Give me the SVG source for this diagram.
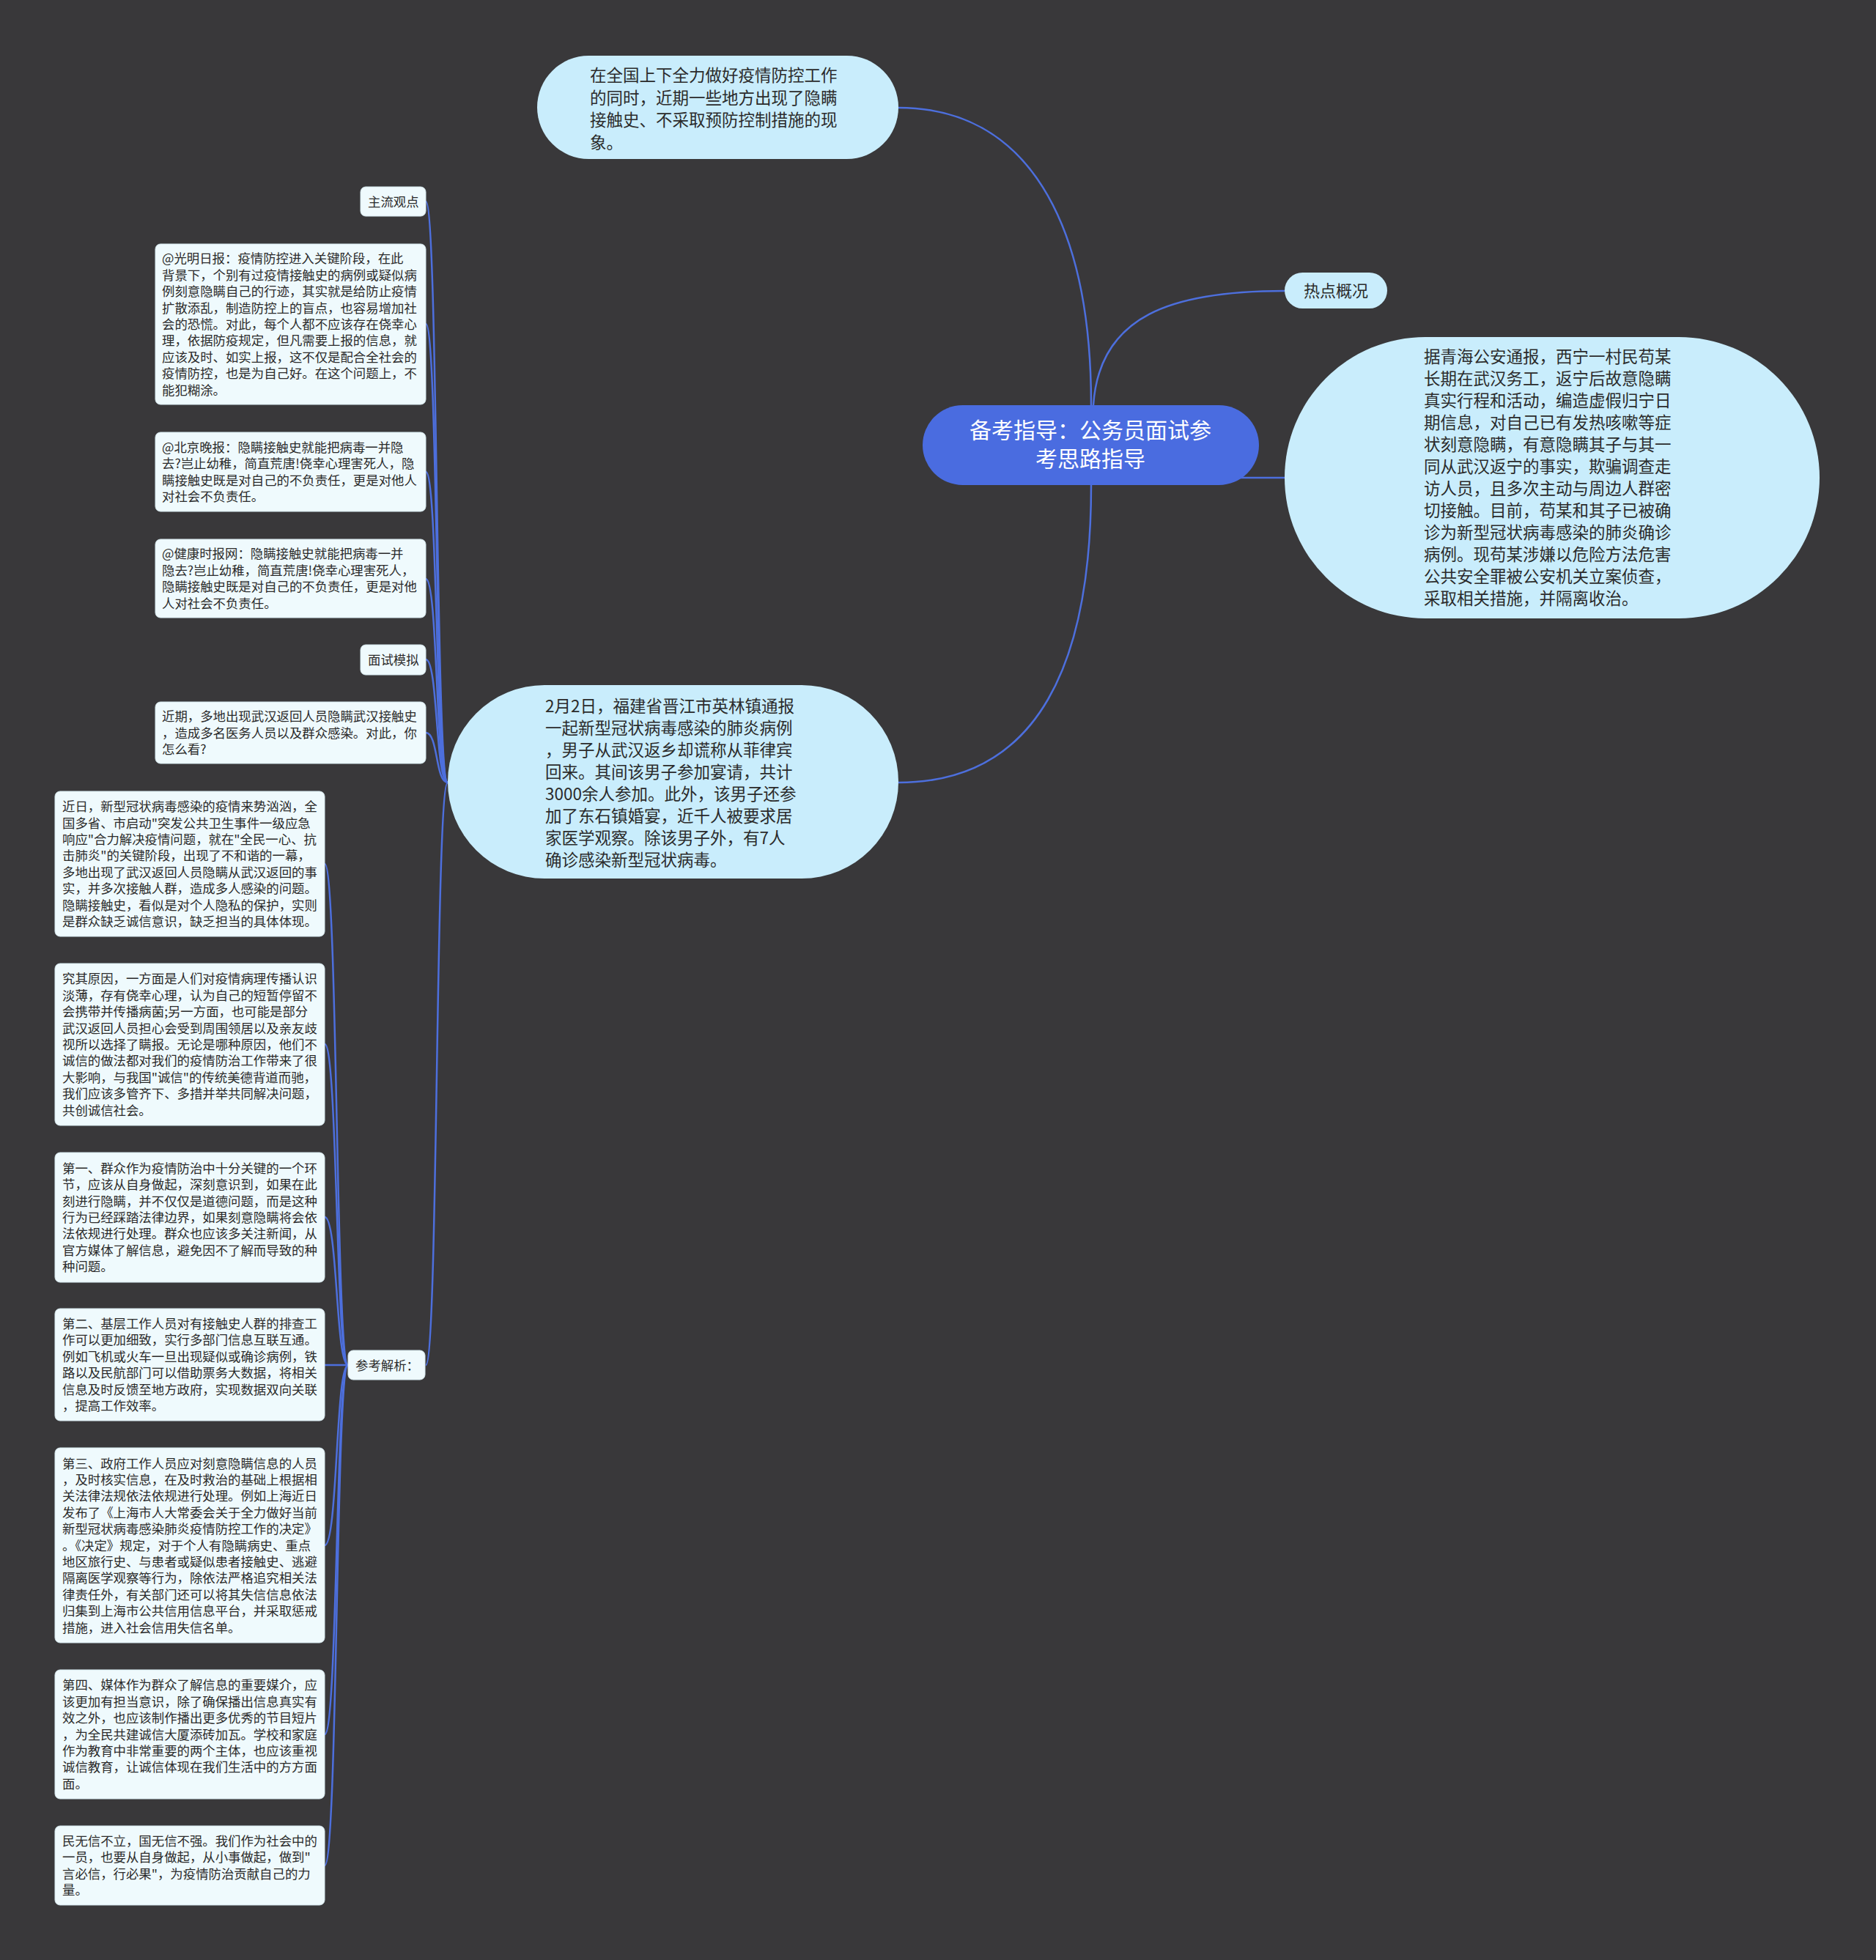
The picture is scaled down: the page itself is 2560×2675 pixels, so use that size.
<svg xmlns="http://www.w3.org/2000/svg" width="2560" height="2675" viewBox="0 0 2560 2675">
<style>
.t{font-family:"Noto Sans CJK SC","Noto Sans",sans-serif;fill:#2b2b2b}
.s{font-size:17.4px}
.b{font-size:22.5px}
.bub{fill:#c9edfc}
.box{fill:#effafd;stroke:#d6e8ee;stroke-width:1}
.c{fill:none;stroke:#4d6fdd;stroke-width:2.5}
</style>
<rect x="0" y="0" width="2560" height="2675" fill="#39383a"/>
<g id="connectors">
<path class="c" d="M1489 553 C1489 300 1400 147 1226 147"/>
<path class="c" d="M1492 553 C1500 430 1600 397 1753 397"/>
<path class="c" d="M1690 652 L1756 652"/>
<path class="c" d="M1489 662 C1489 900 1420 1068 1226 1068"/>
<path class="c" d="M611 1068 C594 1068 598 275 581 275"/>
<path class="c" d="M611 1068 C594 1068 598 442 581 442"/>
<path class="c" d="M611 1068 C594 1068 598 644 581 644"/>
<path class="c" d="M611 1068 C594 1068 598 790 581 790"/>
<path class="c" d="M611 1068 C594 1068 598 900 581 900"/>
<path class="c" d="M611 1068 C594 1068 598 1000 581 1000"/>
<path class="c" d="M611 1068 C594 1068 598 1863 581 1863"/>
<path class="c" d="M475 1863 C458 1863 461 1179 443 1179"/>
<path class="c" d="M475 1863 C458 1863 461 1425 443 1425"/>
<path class="c" d="M475 1863 C458 1863 461 1661 443 1661"/>
<path class="c" d="M475 1863 L443 1863"/>
<path class="c" d="M475 1863 C458 1863 461 2109 443 2109"/>
<path class="c" d="M475 1863 C458 1863 461 2367 443 2367"/>
<path class="c" d="M475 1863 C458 1863 461 2546 443 2546"/>
</g>
<g id="center">
<rect x="1259" y="553" width="459" height="109" rx="54.5" fill="#4a6ce0"/>
<text class="t" font-size="30" style="fill:#ffffff" text-anchor="middle"><tspan x="1488" y="598">备考指导：公务员面试参</tspan><tspan x="1488" y="637">考思路指导</tspan></text>
</g>
<g id="top-bubble">
<rect class="bub" x="733" y="76" width="493" height="141" rx="70.5"/>
<text class="t b"><tspan x="805" y="111">在全国上下全力做好疫情防控工作</tspan><tspan x="805" y="141.5">的同时，近期一些地方出现了隐瞒</tspan><tspan x="805" y="172">接触史、不采取预防控制措施的现</tspan><tspan x="805" y="202.5">象。</tspan></text>
</g>
<g id="hot">
<rect class="bub" x="1753" y="372" width="140" height="49" rx="24.5"/>
<text class="t" font-size="22" x="1823" y="405" text-anchor="middle">热点概况</text>
</g>
<g id="right-bubble">
<rect class="bub" x="1753" y="460" width="730" height="384" rx="192"/>
<text class="t b"><tspan x="1943" y="494.5">据青海公安通报，西宁一村民苟某</tspan><tspan x="1943" y="524.5">长期在武汉务工，返宁后故意隐瞒</tspan><tspan x="1943" y="554.5">真实行程和活动，编造虚假归宁日</tspan><tspan x="1943" y="584.5">期信息，对自己已有发热咳嗽等症</tspan><tspan x="1943" y="614.5">状刻意隐瞒，有意隐瞒其子与其一</tspan><tspan x="1943" y="644.5">同从武汉返宁的事实，欺骗调查走</tspan><tspan x="1943" y="674.5">访人员，且多次主动与周边人群密</tspan><tspan x="1943" y="704.5">切接触。目前，苟某和其子已被确</tspan><tspan x="1943" y="734.5">诊为新型冠状病毒感染的肺炎确诊</tspan><tspan x="1943" y="764.5">病例。现苟某涉嫌以危险方法危害</tspan><tspan x="1943" y="794.5">公共安全罪被公安机关立案侦查，</tspan><tspan x="1943" y="824.5">采取相关措施，并隔离收治。</tspan></text>
</g>
<g id="mid-bubble">
<rect class="bub" x="611" y="935" width="615" height="264" rx="132"/>
<text class="t b"><tspan x="744" y="972">2月2日，福建省晋江市英林镇通报</tspan><tspan x="744" y="1002">一起新型冠状病毒感染的肺炎病例</tspan><tspan x="744" y="1032">，男子从武汉返乡却谎称从菲律宾</tspan><tspan x="744" y="1062">回来。其间该男子参加宴请，共计</tspan><tspan x="744" y="1092">3000余人参加。此外，该男子还参</tspan><tspan x="744" y="1122">加了东石镇婚宴，近千人被要求居</tspan><tspan x="744" y="1152">家医学观察。除该男子外，有7人</tspan><tspan x="744" y="1182">确诊感染新型冠状病毒。</tspan></text>
</g>
<g id="zhuliu">
<rect class="box" x="492" y="255" width="89" height="40" rx="7"/>
<text class="t s" x="502" y="281.5">主流观点</text>
</g>
<g id="guangming">
<rect class="box" x="212" y="333" width="369" height="219" rx="7"/>
<text class="t s"><tspan x="221" y="359.4">@光明日报：疫情防控进入关键阶段，在此</tspan><tspan x="221" dy="22.4">背景下，个别有过疫情接触史的病例或疑似病</tspan><tspan x="221" dy="22.4">例刻意隐瞒自己的行迹，其实就是给防止疫情</tspan><tspan x="221" dy="22.4">扩散添乱，制造防控上的盲点，也容易增加社</tspan><tspan x="221" dy="22.4">会的恐慌。对此，每个人都不应该存在侥幸心</tspan><tspan x="221" dy="22.4">理，依据防疫规定，但凡需要上报的信息，就</tspan><tspan x="221" dy="22.4">应该及时、如实上报，这不仅是配合全社会的</tspan><tspan x="221" dy="22.4">疫情防控，也是为自己好。在这个问题上，不</tspan><tspan x="221" dy="22.4">能犯糊涂。</tspan></text>
</g>
<g id="beijing">
<rect class="box" x="212" y="590" width="369" height="108" rx="7"/>
<text class="t s"><tspan x="221" y="616.9">@北京晚报：隐瞒接触史就能把病毒一并隐</tspan><tspan x="221" dy="22.4">去?岂止幼稚，简直荒唐!侥幸心理害死人，隐</tspan><tspan x="221" dy="22.4">瞒接触史既是对自己的不负责任，更是对他人</tspan><tspan x="221" dy="22.4">对社会不负责任。</tspan></text>
</g>
<g id="jiankang">
<rect class="box" x="212" y="736" width="369" height="107" rx="7"/>
<text class="t s"><tspan x="221" y="762.4">@健康时报网：隐瞒接触史就能把病毒一并</tspan><tspan x="221" dy="22.4">隐去?岂止幼稚，简直荒唐!侥幸心理害死人，</tspan><tspan x="221" dy="22.4">隐瞒接触史既是对自己的不负责任，更是对他</tspan><tspan x="221" dy="22.4">人对社会不负责任。</tspan></text>
</g>
<g id="mianshi">
<rect class="box" x="492" y="880" width="89" height="41" rx="7"/>
<text class="t s" x="502" y="906.5">面试模拟</text>
</g>
<g id="jinqi">
<rect class="box" x="212" y="958" width="369" height="84" rx="7"/>
<text class="t s"><tspan x="221" y="984.1">近期，多地出现武汉返回人员隐瞒武汉接触史</tspan><tspan x="221" dy="22.4">，造成多名医务人员以及群众感染。对此，你</tspan><tspan x="221" dy="22.4">怎么看?</tspan></text>
</g>
<g id="cankao">
<rect class="box" x="475" y="1843" width="105" height="40" rx="7"/>
<text class="t s" x="485" y="1869.5">参考解析：</text>
</g>
<g id="jinri">
<rect class="box" x="75" y="1080" width="368" height="198" rx="7"/>
<text class="t s"><tspan x="85" y="1107.1">近日，新型冠状病毒感染的疫情来势汹汹，全</tspan><tspan x="85" dy="22.4">国多省、市启动"突发公共卫生事件一级应急</tspan><tspan x="85" dy="22.4">响应"合力解决疫情问题，就在"全民一心、抗</tspan><tspan x="85" dy="22.4">击肺炎"的关键阶段，出现了不和谐的一幕，</tspan><tspan x="85" dy="22.4">多地出现了武汉返回人员隐瞒从武汉返回的事</tspan><tspan x="85" dy="22.4">实，并多次接触人群，造成多人感染的问题。</tspan><tspan x="85" dy="22.4">隐瞒接触史，看似是对个人隐私的保护，实则</tspan><tspan x="85" dy="22.4">是群众缺乏诚信意识，缺乏担当的具体体现。</tspan></text>
</g>
<g id="jiuqi">
<rect class="box" x="75" y="1315" width="368" height="221" rx="7"/>
<text class="t s"><tspan x="85" y="1342.4">究其原因，一方面是人们对疫情病理传播认识</tspan><tspan x="85" dy="22.4">淡薄，存有侥幸心理，认为自己的短暂停留不</tspan><tspan x="85" dy="22.4">会携带并传播病菌;另一方面，也可能是部分</tspan><tspan x="85" dy="22.4">武汉返回人员担心会受到周围领居以及亲友歧</tspan><tspan x="85" dy="22.4">视所以选择了瞒报。无论是哪种原因，他们不</tspan><tspan x="85" dy="22.4">诚信的做法都对我们的疫情防治工作带来了很</tspan><tspan x="85" dy="22.4">大影响，与我国"诚信"的传统美德背道而驰，</tspan><tspan x="85" dy="22.4">我们应该多管齐下、多措并举共同解决问题，</tspan><tspan x="85" dy="22.4">共创诚信社会。</tspan></text>
</g>
<g id="di1">
<rect class="box" x="75" y="1573" width="368" height="177" rx="7"/>
<text class="t s"><tspan x="85" y="1600.8">第一、群众作为疫情防治中十分关键的一个环</tspan><tspan x="85" dy="22.4">节，应该从自身做起，深刻意识到，如果在此</tspan><tspan x="85" dy="22.4">刻进行隐瞒，并不仅仅是道德问题，而是这种</tspan><tspan x="85" dy="22.4">行为已经踩踏法律边界，如果刻意隐瞒将会依</tspan><tspan x="85" dy="22.4">法依规进行处理。群众也应该多关注新闻，从</tspan><tspan x="85" dy="22.4">官方媒体了解信息，避免因不了解而导致的种</tspan><tspan x="85" dy="22.4">种问题。</tspan></text>
</g>
<g id="di2">
<rect class="box" x="75" y="1786" width="368" height="153" rx="7"/>
<text class="t s"><tspan x="85" y="1813">第二、基层工作人员对有接触史人群的排查工</tspan><tspan x="85" dy="22.4">作可以更加细致，实行多部门信息互联互通。</tspan><tspan x="85" dy="22.4">例如飞机或火车一旦出现疑似或确诊病例，铁</tspan><tspan x="85" dy="22.4">路以及民航部门可以借助票务大数据，将相关</tspan><tspan x="85" dy="22.4">信息及时反馈至地方政府，实现数据双向关联</tspan><tspan x="85" dy="22.4">，提高工作效率。</tspan></text>
</g>
<g id="di3">
<rect class="box" x="75" y="1976" width="368" height="266" rx="7"/>
<text class="t s"><tspan x="85" y="2003.5">第三、政府工作人员应对刻意隐瞒信息的人员</tspan><tspan x="85" dy="22.4">，及时核实信息，在及时救治的基础上根据相</tspan><tspan x="85" dy="22.4">关法律法规依法依规进行处理。例如上海近日</tspan><tspan x="85" dy="22.4">发布了《上海市人大常委会关于全力做好当前</tspan><tspan x="85" dy="22.4">新型冠状病毒感染肺炎疫情防控工作的决定》</tspan><tspan x="85" dy="22.4">。《决定》规定，对于个人有隐瞒病史、重点</tspan><tspan x="85" dy="22.4">地区旅行史、与患者或疑似患者接触史、逃避</tspan><tspan x="85" dy="22.4">隔离医学观察等行为，除依法严格追究相关法</tspan><tspan x="85" dy="22.4">律责任外，有关部门还可以将其失信信息依法</tspan><tspan x="85" dy="22.4">归集到上海市公共信用信息平台，并采取惩戒</tspan><tspan x="85" dy="22.4">措施，进入社会信用失信名单。</tspan></text>
</g>
<g id="di4">
<rect class="box" x="75" y="2279" width="368" height="176" rx="7"/>
<text class="t s"><tspan x="85" y="2306.3">第四、媒体作为群众了解信息的重要媒介，应</tspan><tspan x="85" dy="22.4">该更加有担当意识，除了确保播出信息真实有</tspan><tspan x="85" dy="22.4">效之外，也应该制作播出更多优秀的节目短片</tspan><tspan x="85" dy="22.4">，为全民共建诚信大厦添砖加瓦。学校和家庭</tspan><tspan x="85" dy="22.4">作为教育中非常重要的两个主体，也应该重视</tspan><tspan x="85" dy="22.4">诚信教育，让诚信体现在我们生活中的方方面</tspan><tspan x="85" dy="22.4">面。</tspan></text>
</g>
<g id="minwuxin">
<rect class="box" x="75" y="2492" width="368" height="108" rx="7"/>
<text class="t s"><tspan x="85" y="2518.9">民无信不立，国无信不强。我们作为社会中的</tspan><tspan x="85" dy="22.4">一员，也要从自身做起，从小事做起，做到"</tspan><tspan x="85" dy="22.4">言必信，行必果"，为疫情防治贡献自己的力</tspan><tspan x="85" dy="22.4">量。</tspan></text>
</g>
</svg>
